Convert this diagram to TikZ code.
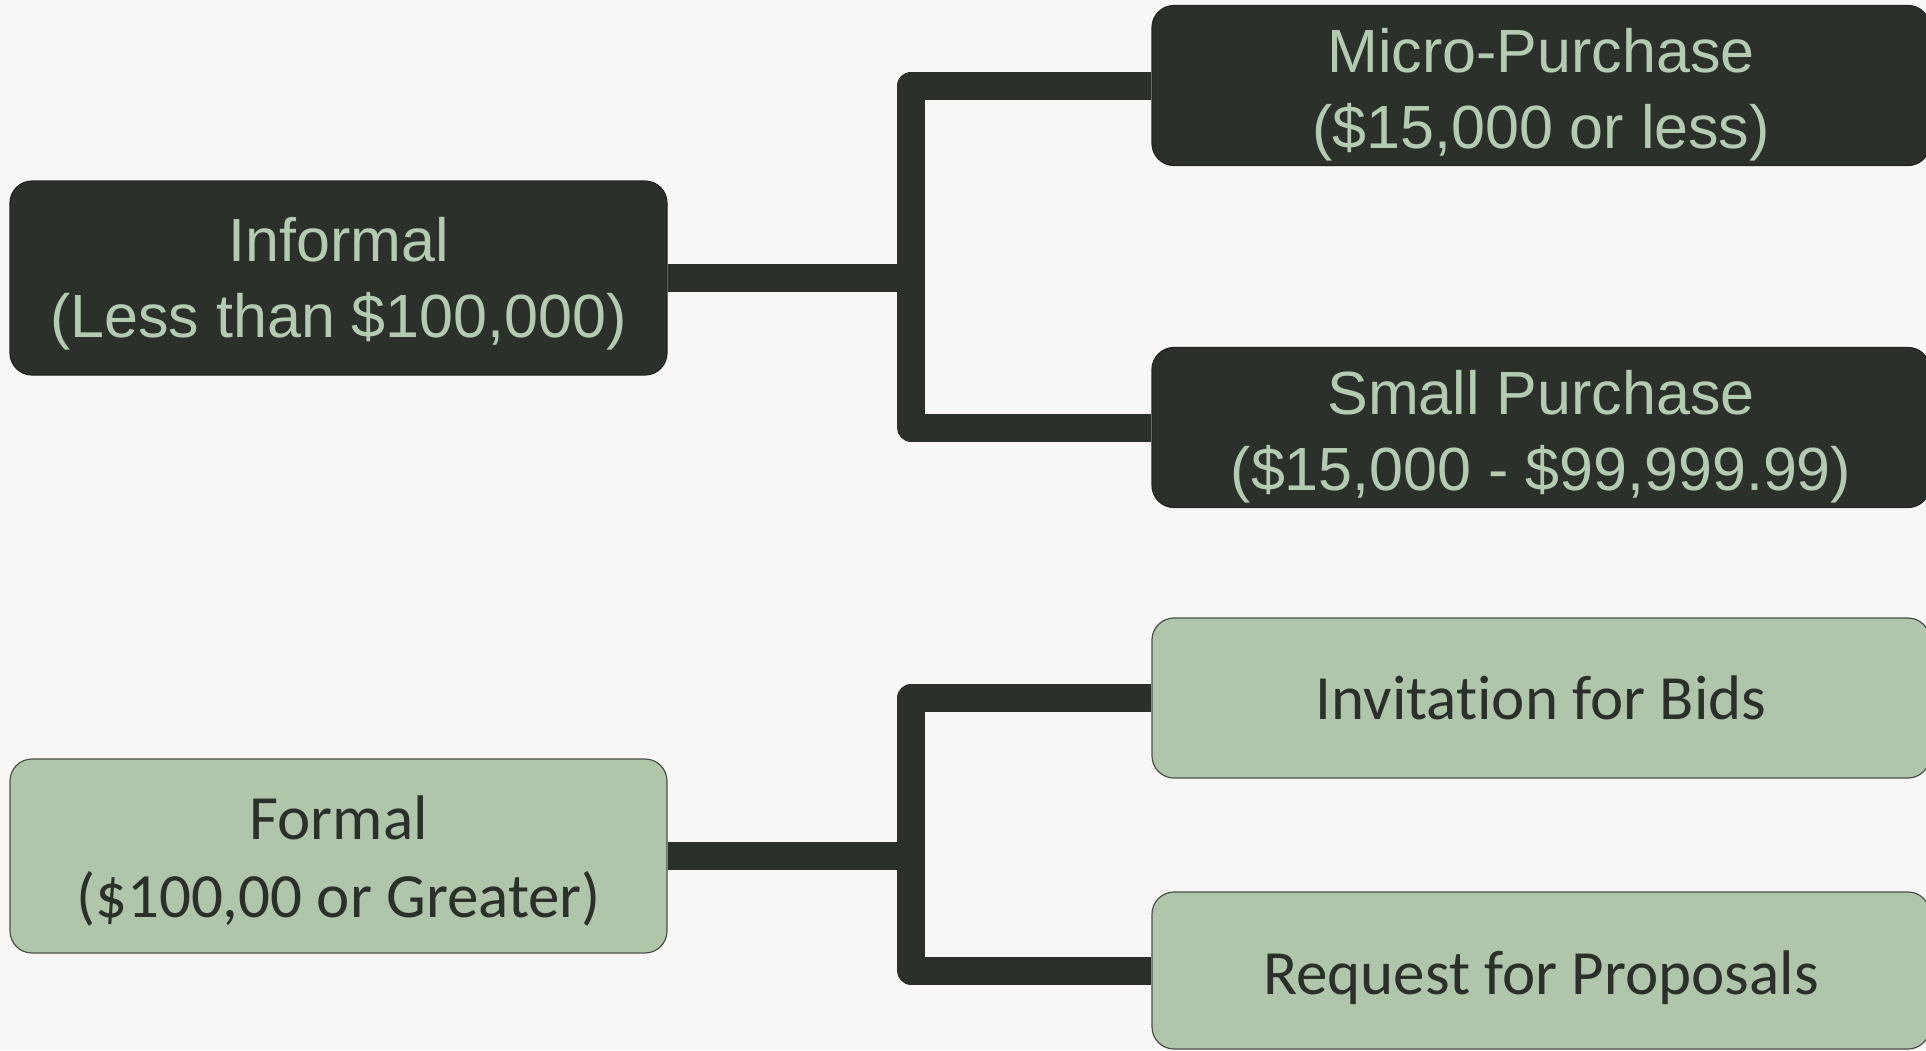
\documentclass[tikz,border=0pt]{standalone}
\usepackage{fontspec}
\setmainfont{Liberation Sans}
\newfontfamily\calfont[Ligatures=NoCommon]{Carlito}
\usetikzlibrary{backgrounds}
\definecolor{bgcol}{HTML}{F8F7F5}
\definecolor{darkbox}{HTML}{2B302A}
\definecolor{lightbox}{HTML}{AFC6AB}
\definecolor{lighttext}{HTML}{B3CBB0}
\definecolor{edgegray}{HTML}{4A5048}
% #1 = twice the downward shift of the text inside its box
\newcommand\boxtext[2]{\raisebox{0pt}[\dimexpr\height+#1-30pt\relax][\dimexpr\depth-30pt\relax]{\begin{tabular}{@{}c@{}}#2\end{tabular}}}
\tikzset{
  darknode/.style={draw=darkbox!80!black, line width=1.2pt, fill=darkbox, rounded corners=22pt,
    text=lighttext, inner sep=0pt,
    font=\fontsize{61}{76}\selectfont},
  lightnode/.style={draw=edgegray, line width=1.2pt, fill=lightbox, rounded corners=22pt,
    text=darkbox, inner sep=0pt,
    font=\calfont\fontsize{63}{78}\selectfont},
  leftbox/.style={minimum width=657pt, minimum height=194pt},
  rightbox/.style={minimum width=778pt, minimum height=160pt},
  conn/.style={draw=darkbox, line width=28pt, line join=round}
}
\begin{document}
\begin{tikzpicture}[x=1pt,y=-1pt]
\useasboundingbox (0,0) rectangle (1926,1050);
\node[darknode, leftbox] (inf) at (338.5,278) {\boxtext{12pt}{Informal\\(Less than \$100,000)}};
\node[lightnode, leftbox] (form) at (338.5,856) {\boxtext{14pt}{Formal\\(\$100,00 or Greater)}};
\node[darknode, rightbox] (micro) at (1541,85.5) {\boxtext{20pt}{Micro-Purchase\\(\$15,000 or less)}};
\node[darknode, rightbox] (small) at (1541,427.5) {\boxtext{20pt}{Small Purchase\\(\$15,000 - \$99,999.99)}};
\node[lightnode, rightbox] (ifb) at (1541,698) {\boxtext{12pt}{Invitation for Bids}};
\node[lightnode, rightbox, minimum height=157pt] (rfp) at (1541,970.5) {\boxtext{16pt}{Request for Proposals}};
\coordinate (j1) at (911,278);
\coordinate (j2) at (911,856);
\begin{scope}[on background layer]
\fill[bgcol] (0,0) rectangle (1926,1050);
\draw[conn] (inf.east) -- (j1);
\draw[conn] (micro.west) -| (j1) |- (small.west);
\draw[conn] (form.east) -- (j2);
\draw[conn] (ifb.west) -| (j2) |- (rfp.west);
\end{scope}
\end{tikzpicture}
\end{document}
